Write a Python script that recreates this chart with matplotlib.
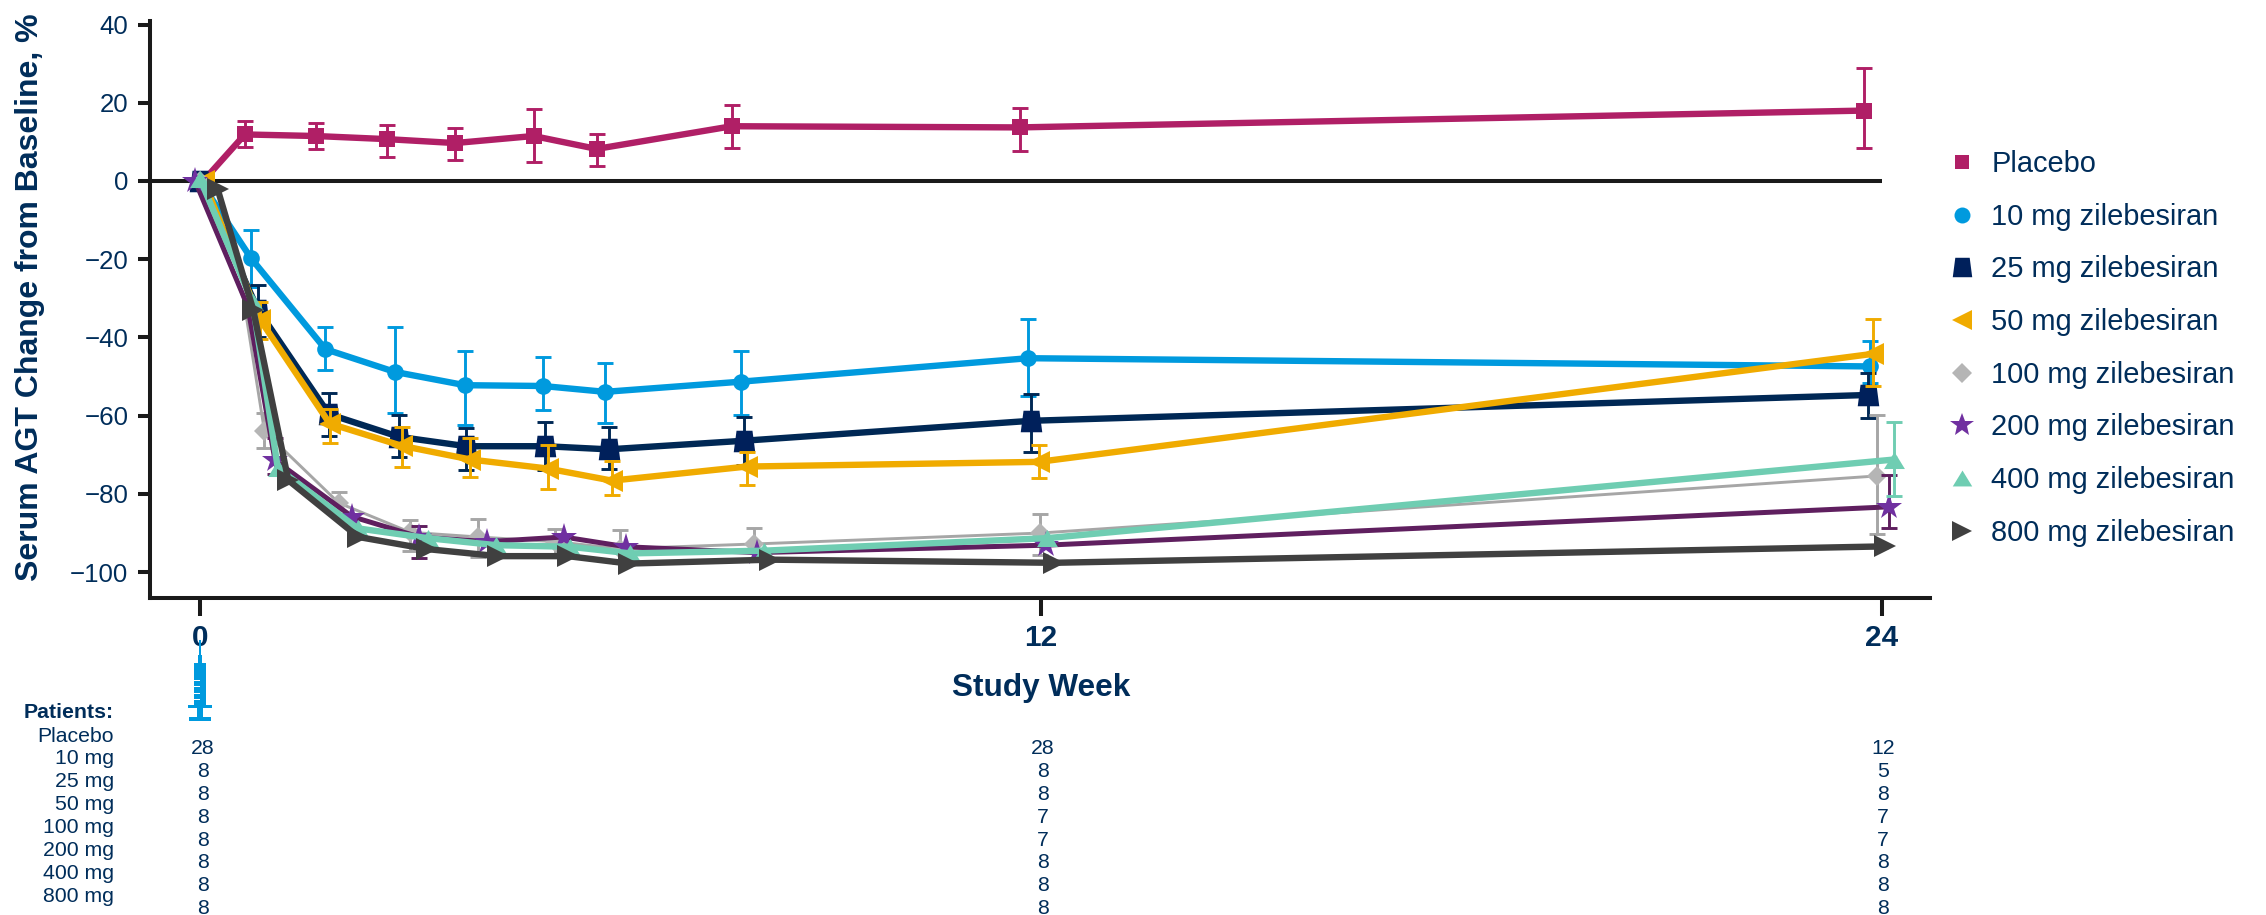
import numpy as np
import matplotlib
matplotlib.use('Agg')
import matplotlib.pyplot as plt
from matplotlib.lines import Line2D
from matplotlib.path import Path
from matplotlib.patches import Rectangle

plt.rcParams['font.family'] = ['Liberation Sans', 'DejaVu Sans']

W, H = 2266, 915
NAVY = '#002D5A'
nan = np.nan

# values: week, mean, lower and upper error bar
placebo_x = [0.07, 0.64, 1.65, 2.67, 3.64, 4.76, 5.66, 7.59, 11.70, 23.75]
placebo_y = [0.5, 11.9, 11.5, 10.7, 9.7, 11.5, 8.2, 14.0, 13.7, 18.0]
placebo_lo = [nan, 8.6, 8.1, 6.2, 5.3, 4.8, 3.9, 8.5, 7.7, 8.5]
placebo_hi = [nan, 15.4, 14.9, 14.3, 13.5, 18.4, 12.0, 19.3, 18.7, 29.0]

mg10_x = [0.0, 0.73, 1.79, 2.78, 3.78, 4.89, 5.78, 7.72, 11.82, 23.83]
mg10_y = [0.0, -19.8, -43.0, -48.8, -52.2, -52.4, -53.9, -51.3, -45.3, -47.4]
mg10_lo = [nan, -27.0, -48.3, -59.2, -62.4, -58.5, -61.9, -59.8, -55.0, -51.7]
mg10_hi = [nan, -12.6, -37.4, -37.4, -43.5, -44.9, -46.6, -43.4, -35.4, -40.9]

mg25_x = [0.0, 0.83, 1.84, 2.84, 3.80, 4.93, 5.83, 7.76, 11.86, 23.80]
mg25_y = [0.0, -33.0, -59.6, -65.4, -67.8, -67.8, -68.6, -66.4, -61.3, -54.7]
mg25_lo = [nan, -40.0, -65.1, -70.6, -74.0, -74.0, -73.7, -72.6, -69.4, -60.6]
mg25_hi = [nan, -26.6, -54.3, -59.8, -63.2, -61.5, -62.8, -60.4, -54.5, -49.1]

mg50_x = [0.05, 0.86, 1.85, 2.88, 3.86, 4.96, 5.88, 7.80, 11.97, 23.87]
mg50_y = [0.0, -35.5, -62.0, -67.7, -71.2, -73.5, -76.6, -73.0, -71.8, -44.2]
mg50_lo = [nan, -40.4, -67.0, -73.0, -75.6, -78.8, -80.2, -77.7, -76.0, -52.3]
mg50_hi = [nan, -30.9, -58.4, -62.8, -65.6, -67.5, -71.7, -69.2, -67.4, -35.4]

mg100_x = [0.0, 0.62, 0.92, 1.98, 3.00, 3.97, 5.07, 6.00, 7.90, 11.99, 23.93]
mg100_y = [0.0, -30.0, -64.0, -82.3, -89.8, -91.0, -92.2, -94.0, -92.8, -90.0, -75.4]
mg100_lo = [nan, nan, -68.3, -86.0, -94.6, -96.2, -95.7, -97.7, -96.8, -95.7, -90.3]
mg100_hi = [nan, nan, -59.3, -79.5, -86.7, -86.5, -89.0, -89.3, -88.6, -85.0, -59.8]

mg200_x = [-0.07, 0.68, 1.07, 2.17, 3.13, 4.10, 5.19, 6.08, 7.95, 12.07, 24.10]
mg200_y = [0.0, -32.0, -71.4, -85.8, -91.0, -92.2, -91.0, -93.5, -95.0, -93.1, -83.3]
mg200_lo = [nan, nan, -75.0, nan, -96.3, nan, nan, nan, nan, nan, -88.8]
mg200_hi = [nan, nan, -65.7, nan, -88.2, nan, nan, nan, nan, nan, -75.2]

mg400_x = [0.0, 0.75, 1.11, 2.25, 3.25, 4.23, 5.28, 6.14, 8.05, 12.09, 24.18]
mg400_y = [0.5, -31.0, -73.4, -88.8, -91.3, -93.1, -93.5, -95.2, -94.5, -91.3, -71.2]
mg400_lo = [nan, nan, nan, nan, nan, nan, nan, nan, nan, nan, -80.5]
mg400_hi = [nan, nan, nan, nan, nan, nan, nan, nan, nan, nan, -61.6]

mg800_x = [0.25, 0.76, 1.26, 2.26, 3.24, 4.25, 5.25, 6.12, 8.14, 12.19, 24.05]
mg800_y = [-2.0, -33.0, -76.5, -91.0, -94.1, -95.9, -95.9, -97.8, -96.8, -97.6, -93.4]

legend_labels = ['Placebo', '10 mg zilebesiran', '25 mg zilebesiran', '50 mg zilebesiran',
                 '100 mg zilebesiran', '200 mg zilebesiran', '400 mg zilebesiran', '800 mg zilebesiran']
yticks = [40, 20, 0, -20, -40, -60, -80, -100]
xticks = [0, 12, 24]
row_labels = ['Placebo', '10 mg', '25 mg', '50 mg', '100 mg', '200 mg', '400 mg', '800 mg']
n_week0 = [28, 8, 8, 8, 8, 8, 8, 8]
n_week12 = [28, 8, 8, 7, 7, 8, 8, 8]
n_week24 = [12, 5, 8, 7, 7, 8, 8, 8]

trapezoid = Path([(-0.37, 0.5), (0.37, 0.5), (0.5, -0.5), (-0.5, -0.5), (-0.37, 0.5)], closed=True)
flat_triangle = Path([(0, 0.45), (0.55, -0.45), (-0.55, -0.45), (0, 0.45)], closed=True)


def fx(px):
    return px / W


def fy(py):
    return 1 - py / H


fig = plt.figure(figsize=(W / 100, H / 100), dpi=100)
ax = fig.add_axes([fx(150), fy(598), (1930 - 150) / W, (598 - 21) / H])
ax.set_xlim(-0.714, 24.69)
ax.set_ylim(-106.6, 40.9)

for side in ['top', 'right']:
    ax.spines[side].set_visible(False)
for side in ['left', 'bottom']:
    ax.spines[side].set_linewidth(2.9)
    ax.spines[side].set_color('#1a1a1a')

ax.plot([-0.714, 24], [0, 0], color='#1a1a1a', lw=2.9, zorder=1.5, solid_capstyle='butt')

# x, y, lo, hi, line colour, marker colour, marker, size, line width, hidden markers
series = [
    (placebo_x, placebo_y, placebo_lo, placebo_hi, '#B01F66', '#B01F66', 's', 11, 4.6, [0]),
    (mg10_x, mg10_y, mg10_lo, mg10_hi, '#009ADE', '#009ADE', 'o', 12, 4.6, []),
    (mg25_x, mg25_y, mg25_lo, mg25_hi, '#002855', '#00205B', trapezoid, 15.5, 4.6, []),
    (mg50_x, mg50_y, mg50_lo, mg50_hi, '#F0AB00', '#F0AB00', '<', 15.5, 4.6, []),
    (mg100_x, mg100_y, mg100_lo, mg100_hi, '#A6A6A6', '#B5B5B5', 'D', 10.5, 2.1, [1]),
    (mg200_x, mg200_y, mg200_lo, mg200_hi, '#5F1F5F', '#7030A0', '*', 20, 3.6, [1]),
    (mg400_x, mg400_y, mg400_lo, mg400_hi, '#6FCDB2', '#6FCDB2', flat_triangle, 15, 4.6, []),
    (mg800_x, mg800_y, None, None, '#404040', '#404040', '>', 16.5, 4.6, []),
]

for i, (x, y, lo, hi, c, mc, m, ms, lw, hide) in enumerate(series):
    x = np.array(x)
    y = np.array(y)
    keep = [k for k in range(len(x)) if k not in hide]
    if lo is not None:
        yerr = [y - np.array(lo), np.array(hi) - y]
        ax.errorbar(x, y, yerr=yerr, fmt='none', ecolor=c, elinewidth=2.1, capsize=5.8,
                    capthick=2.1, zorder=3 + i)
    ax.plot(x, y, color=c, lw=lw, marker=m, ms=ms, mfc=mc, mec=mc, mew=0,
            markevery=keep, zorder=3 + i)

ax.set_yticks(yticks)
ax.set_yticklabels(['\u2212' + str(-v) if v < 0 else str(v) for v in yticks],
                   fontsize=18.6, color=NAVY)
ax.set_xticks(xticks)
ax.set_xticklabels([str(v) for v in xticks], fontsize=21.4, fontweight='bold', color=NAVY)
ax.tick_params(axis='y', length=9, width=2.9, color='#1a1a1a', pad=6.5)
ax.tick_params(axis='x', length=13, width=2.9, color='#1a1a1a', pad=5.8)

fig.text(fx(30), fy(297), 'Serum AGT Change from Baseline, %', rotation=90, ha='center', va='center',
         fontsize=23, fontweight='bold', color=NAVY)
fig.text(fx(1041), fy(688), 'Study Week', ha='center', va='center', fontsize=22.7,
         fontweight='bold', color=NAVY)

# legend
handles = [Line2D([], [], ls='none', marker=s[6], color=s[5], mew=0, ms=ms)
           for s, ms in zip(series, [10, 11.5, 14, 14, 10, 18, 14, 14.5])]
ax.legend(handles, legend_labels, loc='upper left', bbox_to_anchor=(fx(1947), fy(150)),
          bbox_transform=fig.transFigure, frameon=False, fontsize=20.9, labelcolor=NAVY,
          numpoints=1, handlelength=1, handletextpad=0.53, borderpad=0, borderaxespad=0,
          labelspacing=0.85)

# patients table
fig.text(fx(114), fy(713), 'Patients:', ha='right', va='center', fontsize=15.3,
         fontweight='bold', color=NAVY)
for i, lab in enumerate(row_labels):
    fig.text(fx(114), fy(736 + i * 22.9), lab, ha='right', va='center', fontsize=15.3, color=NAVY)
    for px, col in zip([203, 1043, 1883], [n_week0, n_week12, n_week24]):
        fig.text(fx(px), fy(748.5 + i * 22.9), str(col[i]), ha='center', va='center',
                 fontsize=15.3, color=NAVY)

# syringe under the week 0 label
BLUE = '#009ADE'
parts = [(199.3, 640, 1.4, 15), (198, 655, 4, 9), (193.5, 663, 12.5, 42), (188, 705, 24, 3),
         (197, 708, 6, 10), (189, 717, 22, 4)]
for px, py, w, h in parts:
    fig.add_artist(Rectangle((fx(px), fy(py + h)), w / W, h / H, transform=fig.transFigure,
                             color=BLUE, lw=0))
for py in [680, 686, 693, 699]:
    fig.add_artist(Rectangle((fx(193.5), fy(py + 1)), 6 / W, 1 / H, transform=fig.transFigure,
                             color='white', lw=0))

fig.savefig('out.png', dpi=100)
